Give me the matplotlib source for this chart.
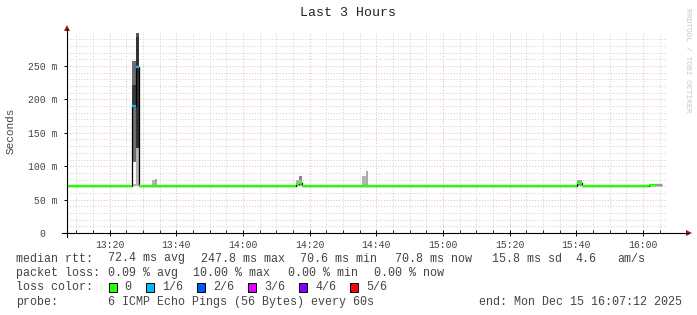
import matplotlib
matplotlib.use("Agg")
import matplotlib.pyplot as plt
from matplotlib.patches import Polygon, Rectangle
from matplotlib.lines import Line2D

W, H = 697, 315
FONT = 'Liberation Mono'
TXT = '#444444'

# time axis in minutes after 13:00, rtt in ms
t_start, t_end = 7.2, 187.2
y_top = 299.4

# median rtt, one value per step (step edges in step_t)
step_t = [7.2, 26.6, 27.9, 28.7, 75.9, 76.9, 77.7, 160.2, 161.7, 181.8, 184.2, 185.7]
step_med = [70.6, 190.0, 248.0, 70.6, 73.0, 75.0, 70.6, 75.0, 70.6, 71.8, 72.4]
step_loss = [0, 1, 1, 0, 0, 0, 0, 0, 0, 0, -1]

# smoke (ping spread) bands
smoke_t0 = [26.6, 26.6, 26.6, 27.9, 27.9, 27.9, 32.6, 33.6, 75.9, 76.9, 76.9, 95.7, 96.9, 160.2]
smoke_t1 = [27.9, 27.9, 27.9, 28.7, 28.7, 28.7, 33.6, 34.3, 76.9, 77.7, 77.7, 96.9, 97.5, 161.7]
smoke_lo = [70.6, 107.0, 190.0, 70.6, 127.0, 294.0, 70.6, 70.6, 70.6, 70.6, 79.0, 70.6, 70.6, 70.6]
smoke_hi = [73.0, 257.0, 221.0, 127.0, 294.0, 299.0, 79.0, 81.0, 80.0, 79.0, 85.0, 85.0, 93.0, 79.0]
smoke_shade = ['#b4b4b4', '#6e6e6e', '#3a3a3a', '#b4b4b4', '#333333', '#5a5a5a',
               '#b4b4b4', '#aaaaaa', '#b4b4b4', '#b4b4b4', '#8a8a8a', '#b4b4b4', '#aaaaaa', '#a0a0a0']

loss_labels = ['0', '1/6', '2/6', '3/6', '4/6', '5/6']
loss_colors = ['#26ff00', '#00b8ff', '#0059ff', '#dd00ff', '#7e00ff', '#ff0000']

x_major = [20, 40, 60, 80, 100, 120, 140, 160, 180]
x_labels = ['13:20', '13:40', '14:00', '14:20', '14:40', '15:00', '15:20', '15:40', '16:00']
y_major = [0, 50, 100, 150, 200, 250]
y_labels = ['0  ', '50 m', '100 m', '150 m', '200 m', '250 m']

rtt_items = ['median rtt:', '72.4 ms avg', '247.8 ms max', '70.6 ms min',
             '70.8 ms now', '15.8 ms sd', '4.6', 'am/s']
rtt_x = [16.5, 108.5, 201, 299.5, 395.5, 491.5, 575, 617]
loss_items = ['packet loss:', '0.09 % avg', '10.00 % max', '0.00 % min', '0.00 % now']
loss_x = [16.5, 108.5, 193, 288, 374]
box_x = [108.5, 146, 197, 248, 299, 350]
probe_text = '6 ICMP Echo Pings (56 Bytes) every 60s'
end_text = 'end: Mon Dec 15 16:07:12 2025'


def fx(x):
    return x / W


def fy(y):
    return 1 - y / H


fig = plt.figure(figsize=(W / 100, H / 100), dpi=100)
fig.patch.set_facecolor('white')
ax = fig.add_axes([fx(67), fy(233), 600 / W, 200 / H])
ax.set_xlim(t_start, t_end)
ax.set_ylim(0, y_top)
for s in ax.spines.values():
    s.set_visible(False)

# grid
dots = (0, (1, 1.8))
for m in range(10, 187, 5):
    if m % 20:
        ax.axvline(m, color='#d2d2d2', lw=0.72, ls=dots, zorder=0)
for v in range(10, 300, 10):
    if v % 50:
        ax.axhline(v, color='#d2d2d2', lw=0.72, ls=dots, zorder=0)
for m in x_major:
    ax.axvline(m, color='#ecb8b8', lw=0.72, ls=dots, zorder=0.5)
for v in y_major[1:]:
    ax.axhline(v, color='#ecb8b8', lw=0.72, ls=dots, zorder=0.5)

# smoke
for a, b, lo, hi, c in zip(smoke_t0, smoke_t1, smoke_lo, smoke_hi, smoke_shade):
    ax.bar(a, hi - lo, width=b - a, bottom=lo, align='edge', color=c, lw=0, zorder=2)

# median: black step line, then loss coloured segments
xs, ys = [], []
for i, m in enumerate(step_med):
    xs += [step_t[i], step_t[i + 1]]
    ys += [m, m]
ax.plot(xs, ys, color='black', lw=0.9, zorder=3, solid_capstyle='butt')
for i, m in enumerate(step_med):
    c = '#999999' if step_loss[i] < 0 else loss_colors[step_loss[i]]
    ax.hlines(m, step_t[i], step_t[i + 1], colors=c, lw=1.7, zorder=4, capstyle='butt')

ax.set_xticks(x_major, x_labels)
ax.set_xticks(range(10, 187, 5), minor=True)
ax.set_yticks(y_major, y_labels)
ax.tick_params(axis='x', which='major', direction='inout', length=4, width=0.7, pad=3,
               labelsize=7, labelcolor=TXT)
ax.tick_params(axis='x', which='minor', direction='in', length=2, width=0.6)
ax.tick_params(axis='y', direction='out', length=2, width=0.7, pad=5, labelsize=7, labelcolor=TXT)
for lab in ax.get_xticklabels() + ax.get_yticklabels():
    lab.set_fontfamily(FONT)

# axis lines with arrows
fig.add_artist(Line2D([fx(62), fx(688)], [fy(233), fy(233)], color='black', lw=0.8))
fig.add_artist(Line2D([fx(67), fx(67)], [fy(237), fy(29)], color='black', lw=0.8))
fig.add_artist(Polygon([(fx(686), fy(230)), (fx(686), fy(236)), (fx(692), fy(233))],
                       closed=True, color='#8b1a1a', lw=0))
fig.add_artist(Polygon([(fx(64), fy(31)), (fx(70), fy(31)), (fx(67), fy(25))],
                       closed=True, color='#8b1a1a', lw=0))

# titles
fig.text(fx(348), fy(13), 'Last 3 Hours', family=FONT, size=9.5, color='#222222',
         ha='center', va='center')
fig.text(fx(11), fy(131), 'Seconds', family=FONT, size=8, color=TXT,
         rotation=90, ha='center', va='center')
fig.text(fx(688), fy(60), 'RRDTOOL / TOBI OETIKER', family=FONT, size=5.8, color='#c8c8c8',
         rotation=270, ha='center', va='center')

# legend rows
for s, x in zip(rtt_items, rtt_x):
    fig.text(fx(x), fy(258.5), s, family=FONT, size=8.4, color=TXT, va='center')
for s, x in zip(loss_items, loss_x):
    fig.text(fx(x), fy(273), s, family=FONT, size=8.4, color=TXT, va='center')
fig.text(fx(16.5), fy(287.5), 'loss color:', family=FONT, size=8.4, color=TXT, va='center')
for x, lab, c in zip(box_x, loss_labels, loss_colors):
    fig.add_artist(Rectangle((fx(x), fy(292)), 8 / W, 9 / H, facecolor=c,
                             edgecolor='black', lw=0.7))
    fig.text(fx(x + 16), fy(287.5), lab, family=FONT, size=8.4, color=TXT, va='center')
fig.text(fx(16.5), fy(302), 'probe:', family=FONT, size=8.4, color=TXT, va='center')
fig.text(fx(108.5), fy(302), probe_text, family=FONT, size=8.4, color=TXT, va='center')
fig.text(fx(682), fy(302), end_text, family=FONT, size=8.4, color=TXT, va='center', ha='right')

fig.savefig('out.png', dpi=100, facecolor='white')
